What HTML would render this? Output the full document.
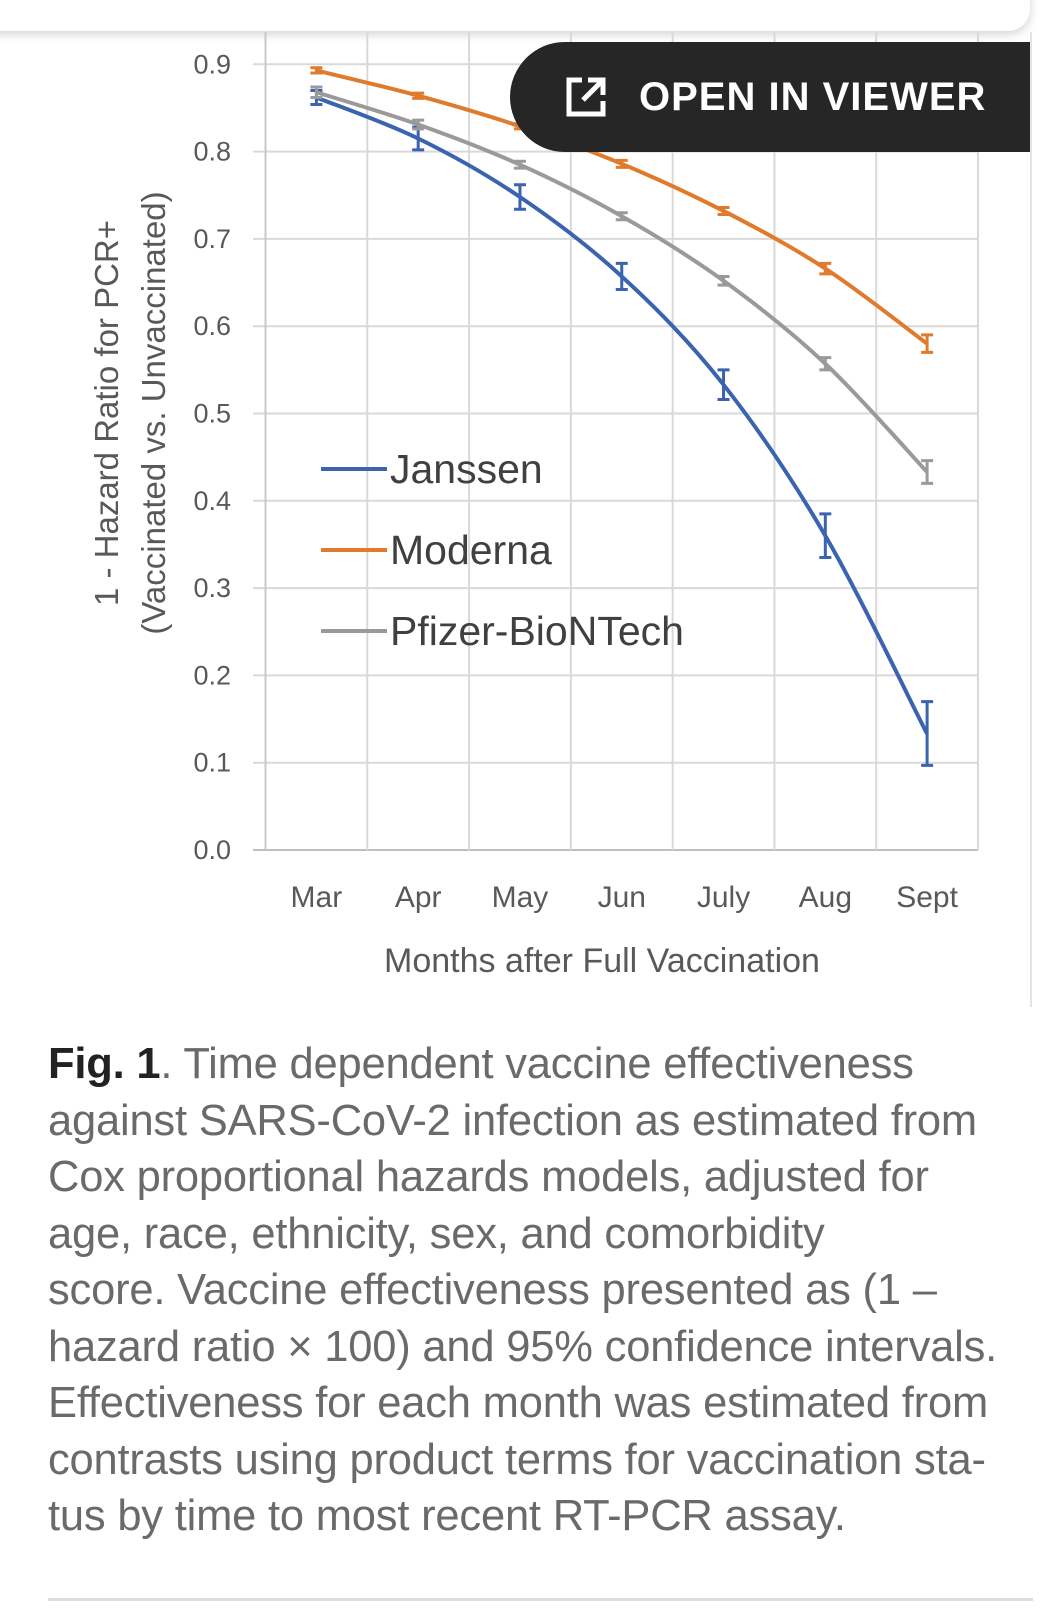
<!DOCTYPE html>
<html><head><meta charset="utf-8"><style>
body{margin:0;width:1049px;height:1619px;background:#fff;overflow:hidden;position:relative;font-family:"Liberation Sans",sans-serif}
#card{position:absolute;left:-20px;top:-20px;width:1050px;height:51px;background:#fff;border-radius:0 0 22px 22px;box-shadow:0 3px 10px rgba(0,0,0,0.18)}
#vline{position:absolute;left:1030px;top:32px;width:2px;height:975px;background:#e4e4e4}
#banner{position:absolute;left:510px;top:42px;width:520px;height:110px;background:#262626;border-radius:55px 0 0 55px;color:#fff;font-weight:bold;font-size:40px;line-height:110px}
#banner span{position:absolute;left:129px;top:0;letter-spacing:1px}
#caption{position:absolute;left:48px;top:1036px;width:1000px;font-size:43.5px;line-height:56.5px;color:#6a6a6a;white-space:nowrap;letter-spacing:-0.2px}
#caption b{color:#222}
#rule{position:absolute;left:48px;top:1598px;width:985px;height:3px;background:#ddd}
</style></head><body>
<div id="card"></div>
<div id="vline"></div>
<svg id="chart" width="1049" height="1000" style="position:absolute;left:0;top:0" font-family="Liberation Sans, sans-serif"></svg>
<div id="banner">
<svg width="44" height="44" style="position:absolute;left:54px;top:33px" viewBox="0 0 44 44" fill="none" stroke="#fff" stroke-width="5"><path d="M18 5H5v34h34V26"/><path d="M24 5h15v15M39 5L19 25"/></svg>
<span>OPEN IN VIEWER</span></div>
<div id="caption"><b>Fig. 1</b>. Time dependent vaccine effectiveness<br>against SARS-CoV-2 infection as estimated from<br>Cox proportional hazards models, adjusted for<br>age, race, ethnicity, sex, and comorbidity<br>score. Vaccine effectiveness presented as (1 –<br>hazard ratio × 100) and 95% confidence intervals.<br>Effectiveness for each month was estimated from<br>contrasts using product terms for vaccination sta-<br>tus by time to most recent RT-PCR assay.</div>
<div id="rule"></div>
<script>
const categories=["Mar","Apr","May","Jun","July","Aug","Sept"];
const janssen=[0.862,0.815,0.748,0.657,0.533,0.360,0.133];
const janssenLo=[0.854,0.802,0.734,0.642,0.516,0.335,0.097];
const janssenHi=[0.870,0.828,0.762,0.672,0.550,0.385,0.170];
const moderna=[0.893,0.864,0.829,0.786,0.732,0.666,0.580];
const modernaLo=[0.890,0.861,0.826,0.782,0.728,0.660,0.570];
const modernaHi=[0.896,0.867,0.832,0.790,0.736,0.672,0.590];
const pfizer=[0.868,0.831,0.785,0.726,0.652,0.557,0.433];
const pfizerLo=[0.862,0.826,0.781,0.722,0.647,0.550,0.420];
const pfizerHi=[0.874,0.836,0.789,0.730,0.657,0.564,0.446];
const yTicks=[0,0.1,0.2,0.3,0.4,0.5,0.6,0.7,0.8,0.9];
const svg=document.getElementById('chart');
const NS='http://www.w3.org/2000/svg';
const L=265.5,R=978,T=32,B=850,Y0=850,YPER=873;
const step=(R-L)/categories.length;
function xs(i){return L+step*(i+0.5);}
function ys(v){return Y0-v*YPER;}
function mk(tag,attrs,parent){const e=document.createElementNS(NS,tag);for(const k in attrs)e.setAttribute(k,attrs[k]);(parent||svg).appendChild(e);return e;}
yTicks.forEach(v=>{
 const g=mk('line',{x1:253,x2:R,y1:ys(v),y2:ys(v),stroke:v===0?'#bfbfbf':'#d9d9d9','stroke-width':2});
 
 
 const t=mk('text',{x:231,y:ys(v)+9,'text-anchor':'end','font-size':27,fill:'#595959'});
 t.textContent=v.toFixed(1);
 
 
});
for(let i=0;i<=categories.length;i++){
 const g=mk('line',{x1:L+step*i,x2:L+step*i,y1:T,y2:B,stroke:i===0?'#c8c8c8':'#d9d9d9','stroke-width':2});
 
 
}
categories.forEach((c,i)=>{
 const t=mk('text',{x:xs(i),y:907,'text-anchor':'middle','font-size':30,fill:'#595959'});
 t.textContent=c;
 
 
});
const xt=mk('text',{x:602,y:972,'text-anchor':'middle','font-size':34,fill:'#595959'});
xt.textContent='Months after Full Vaccination';


const yt=mk('text',{transform:'translate(118,413) rotate(-90)','text-anchor':'middle','font-size':33,fill:'#595959'});
yt.textContent='1 - Hazard Ratio for PCR+';


const yt2=mk('text',{transform:'translate(165,413) rotate(-90)','text-anchor':'middle','font-size':33,fill:'#595959'});
yt2.textContent='(Vaccinated vs. Unvaccinated)';


function curve(vals){
 const p=vals.map((v,i)=>[xs(i),ys(v)]);
 let d='M'+p[0][0]+','+p[0][1];
 for(let i=0;i<p.length-1;i++){
  const p0=p[Math.max(i-1,0)],p1=p[i],p2=p[i+1],p3=p[Math.min(i+2,p.length-1)];
  const c1=[p1[0]+(p2[0]-p0[0])/6,p1[1]+(p2[1]-p0[1])/6];
  const c2=[p2[0]-(p3[0]-p1[0])/6,p2[1]-(p3[1]-p1[1])/6];
  d+=' C'+c1+' '+c2+' '+p2;
 }
 return d;
}
const series=[['janssen',janssen,janssenLo,janssenHi,'#3a63b0'],['moderna',moderna,modernaLo,modernaHi,'#e07b2d'],['pfizer',pfizer,pfizerLo,pfizerHi,'#9a9a9a']];
series.forEach(([n,v,lo,hi,col])=>{
 const p=mk('path',{d:curve(v),fill:'none',stroke:col,'stroke-width':4});
 
 
 v.forEach((_,i)=>{
  const x=xs(i),a=ys(lo[i]),b=ys(hi[i]);
  const e=mk('path',{d:`M${x},${a}V${b}M${x-6},${a}H${x+6}M${x-6},${b}H${x+6}`,stroke:col,'stroke-width':3,fill:'none'});
  
  
 });
});
const leg=[['Janssen','#3a63b0',469],['Moderna','#e07b2d',550],['Pfizer-BioNTech','#9a9a9a',631]];
leg.forEach(([lab,col,y])=>{
 const l=mk('line',{x1:321,x2:387,y1:y,y2:y,stroke:col,'stroke-width':4});
 
 
 const t=mk('text',{x:390,y:y+14,'font-size':41,fill:'#404040'});
 t.textContent=lab;
 
 
});
</script>
</body></html>
